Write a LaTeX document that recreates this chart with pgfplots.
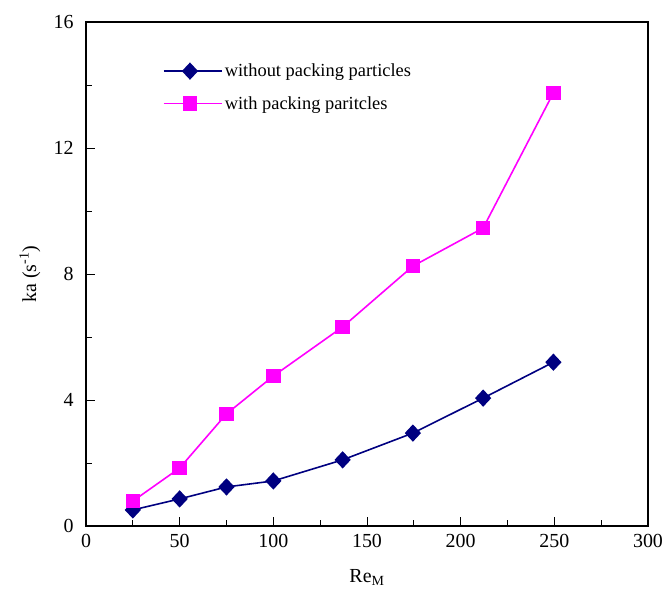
\documentclass[border=0pt]{standalone}
\usepackage{fontspec}
\setmainfont{Liberation Serif}
\usepackage{pgfplots}
\pgfplotsset{compat=1.18}
\definecolor{navyline}{RGB}{0,0,128}
\definecolor{magline}{RGB}{255,0,255}
\begin{document}
\begin{tikzpicture}
\begin{axis}[
  scale only axis,
  width=562bp, height=504bp,
  xmin=0, xmax=300, ymin=0, ymax=16,
  xtick={0,50,...,300}, ytick={0,4,...,16},
  minor xtick={25,75,...,275}, minor ytick={2,6,...,14},
  tick align=inside,
  xtick pos=bottom, ytick pos=left,
  major tick length=9bp, minor tick length=6bp,
  every tick/.style={black, line width=0.9pt},
  axis line style={line width=1.1pt},
  /pgf/number format/assume math mode=true,
  tick label style={font=\fontsize{20}{22}\selectfont},
  label style={font=\fontsize{20}{22}\selectfont},
  xlabel={Re\textsubscript{M}},
  ylabel={ka (s\textsuperscript{-1})},
  xlabel style={at={(axis description cs:0.5,-0.103)}, anchor=center},
  ylabel style={at={(axis description cs:-0.1,0.5)}, anchor=center},
  xticklabel style={yshift=-5bp},
  yticklabel style={xshift=-9bp},
  legend style={draw=none, fill=none, at={(axis description cs:0.137,0.925)}, anchor=north west,
    font=\fontsize{18.5}{21}\selectfont, row sep=14bp, inner xsep=0pt},
  legend cell align=left,
  legend image code/.code={%
    \path (0bp,0bp) -- (58bp,0bp);
    \draw[mark repeat=2,mark phase=2] plot coordinates {(0bp,0bp)(26bp,0bp)(52bp,0bp)};},
]
\addplot[navyline, line width=1.6pt, mark=diamond*, mark size=7.5bp, mark options={solid, fill=navyline, xscale=1.25}]
  coordinates {(25,0.51) (50,0.86) (75,1.24) (100,1.43) (137,2.10) (174.5,2.95) (212,4.06) (249.5,5.20)};
\addlegendentry{without packing particles}
\addplot[magline, line width=1.6pt, mark=square*, mark size=6.5bp, mark options={solid, fill=magline}]
  coordinates {(25,0.79) (50,1.84) (75,3.56) (100,4.76) (137,6.32) (174.5,8.25) (212,9.46) (249.5,13.75)};
\addlegendentry{with packing paritcles}
\end{axis}
\pgfresetboundingbox
\path[use as bounding box] (-86bp,-66bp) rectangle (580bp,526bp);
\end{tikzpicture}
\end{document}
